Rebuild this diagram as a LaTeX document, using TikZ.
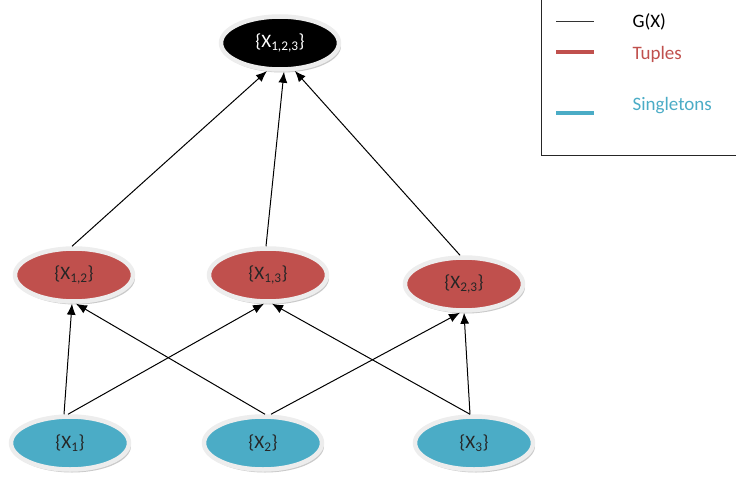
\documentclass[tikz,border=0pt]{standalone}
\usepackage{fontspec}
\setmainfont{Carlito}
\usetikzlibrary{shapes.geometric,shadows,arrows.meta}
\definecolor{tred}{HTML}{C0504D}
\definecolor{sblue}{HTML}{4BACC6}
\begin{document}
\begin{tikzpicture}[x=1pt,y=-1pt,
  setnode/.style={ellipse,minimum width=118pt,minimum height=53pt,inner sep=0pt,
    draw=white!93!black,line width=4.5pt,
    drop shadow={shadow xshift=2pt,shadow yshift=-3pt,fill=black!35,opacity=0.6},
    font=\fontsize{19}{22}\selectfont},
  tuple/.style={setnode,fill=tred,text=black!85},
  single/.style={setnode,fill=sblue,text=black!85},
  topset/.style={setnode,fill=black,text=white},
  edge/.style={line width=1pt,draw=black,-{Latex[length=11pt,width=9pt]}},
  legline/.style={line width=#1},
  legtext/.style={anchor=west,font=\fontsize{19}{22}\selectfont}]
\useasboundingbox (0,0) rectangle (736,484);
% nodes
\node[topset] (t) at (280,43) {\{X\textsubscript{1,2,3}\}};
\node[tuple] (a12) at (74,275) {\{X\textsubscript{1,2}\}};
\node[tuple] (a13) at (268,275) {\{X\textsubscript{1,3}\}};
\node[tuple] (a23) at (464,284) {\{X\textsubscript{2,3}\}};
\node[single] (s1) at (70,443) {\{X\textsubscript{1}\}};
\node[single] (s2) at (263,443) {\{X\textsubscript{2}\}};
\node[single] (s3) at (474,443) {\{X\textsubscript{3}\}};
% edges bottom -> middle
\draw[edge] ([xshift=-6pt]s1.north) -- ([xshift=-2pt]a12.south);
\draw[edge] ([xshift=-2pt]s1.north) -- ([xshift=-4pt]a13.south);
\draw[edge] ([xshift=2pt]s2.north) -- ([xshift=2pt]a12.south);
\draw[edge] ([xshift=8pt]s2.north) -- ([xshift=-4pt]a23.south);
\draw[edge] ([xshift=-4pt]s3.north) -- ([xshift=4pt]a13.south);
\draw[edge] ([xshift=-4pt]s3.north) -- ([xshift=0pt]a23.south);
% edges middle -> top
\draw[edge] ([xshift=-2pt]a12.north) -- (t.-115);
\draw[edge] ([xshift=-2pt]a13.north) -- ([xshift=4pt]t.south);
\draw[edge] ([xshift=-4pt]a23.north) -- (t.-62);
% legend
\node[draw=black!85,line width=1pt,minimum width=196pt,minimum height=156pt,inner sep=0pt] (leg) at (639,77) {};
\coordinate (l1a) at (556,21); \coordinate (l1b) at (594,21);
\coordinate (l2a) at (556,52); \coordinate (l2b) at (594,52);
\coordinate (l3a) at (556,113); \coordinate (l3b) at (594,113);
\draw[legline=0.8pt,black!80] (l1a) -- (l1b);
\draw[legline=4pt,tred] (l2a) -- (l2b);
\draw[legline=4pt,sblue] (l3a) -- (l3b);
\node[legtext] (g) at (629,22) {G(X)};
\node[legtext,text=tred] (tp) at (629,54) {Tuples};
\node[legtext,text=sblue] (sg) at (629,106) {Singletons};
\end{tikzpicture}
\end{document}
